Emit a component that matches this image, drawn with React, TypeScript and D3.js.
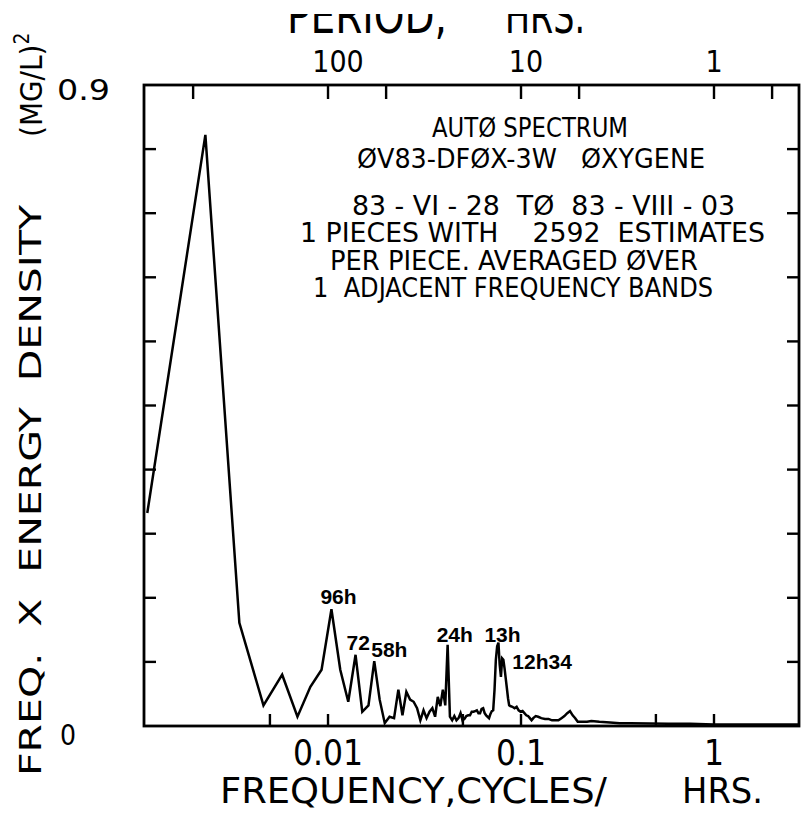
import React from "react";
import * as d3 from "d3";

// ---- data ----
const RECORD_HOURS = 864; // 83-VI-28 to 83-VIII-03
const HARMONICS = [
  1, 2, 3, 4, 5, 6, 7, 8, 9, 10, 11, 12, 13, 14, 15, 16, 17, 18, 19, 20,
  21, 22, 23, 24, 25, 26, 27, 28, 29, 30, 31, 32, 33, 34, 35, 36, 37, 38, 39, 40,
  41, 42, 43, 44, 45, 46, 47, 48, 49, 50, 51, 52, 53, 54, 55, 56, 57, 58, 59, 60,
  61, 62, 63, 64, 65, 66, 67, 68, 69, 70, 71, 72, 73, 74, 75, 76, 78, 80, 82, 84,
  86, 88, 90, 92, 94, 96, 98, 100, 103, 106, 110, 115, 120, 125, 130, 135, 140, 145, 150, 155,
  160, 165, 170, 180, 190, 200, 220, 250, 280, 320, 400, 500, 650, 864, 1296, 1800, 2370,
];
const DENSITY = [
  0.299, 0.83, 0.145, 0.029, 0.072, 0.013, 0.055, 0.079, 0.164, 0.079,
  0.034, 0.1, 0.02, 0.029, 0.091, 0.037, 0.004, 0.013, 0.011, 0.051,
  0.015, 0.048, 0.037, 0.034, 0.025, 0.008, 0.022, 0.011, 0.02, 0.025,
  0.013, 0.041, 0.028, 0.051, 0.029, 0.114, 0.013, 0.008, 0.014, 0.008,
  0.011, 0.018, 0.008, 0.01, 0.014, 0.015, 0.015, 0.02, 0.02, 0.021,
  0.022, 0.018, 0.018, 0.024, 0.025, 0.018, 0.015, 0.013, 0.011, 0.017,
  0.021, 0.022, 0.051, 0.093, 0.112, 0.117, 0.086, 0.069, 0.095, 0.093,
  0.081, 0.067, 0.053, 0.039, 0.029, 0.028, 0.027, 0.025, 0.027, 0.022,
  0.02, 0.021, 0.018, 0.015, 0.014, 0.011, 0.008, 0.011, 0.014, 0.013,
  0.011, 0.01, 0.01, 0.008, 0.008, 0.008, 0.011, 0.014, 0.018, 0.021,
  0.015, 0.011, 0.006, 0.006, 0.006, 0.007, 0.006, 0.005, 0.004, 0.004,
  0.0035, 0.003, 0.003, 0.002, 0.002, 0.002, 0.002,
];

const Y_TICKS = [0.09, 0.18, 0.27, 0.36, 0.45, 0.54, 0.63, 0.72, 0.81];
const FREQ_TICKS = [0.005, 0.01, 0.05, 0.1, 0.5, 1];
const FREQ_LABELS = [
  { f: 0.01, text: "0.01" },
  { f: 0.1, text: "0.1" },
  { f: 1, text: "1" },
];
const PERIOD_TICKS = [500, 100, 50, 10, 5, 1, 0.5];
const PERIOD_LABELS = [
  { p: 100, text: "100" },
  { p: 10, text: "10" },
  { p: 1, text: "1" },
];
const PEAK_LABELS = [
  { k: 9, text: "96h", dx: -11, dy: -5 },
  { k: 12, text: "72", dx: -9, dy: -5 },
  { k: 15, text: "58h", dx: -3, dy: -4 },
  { k: 36, text: "24h", dx: -11, dy: -3 },
  { k: 66, text: "13h", dx: -14, dy: -1 },
  { k: 70, text: "12h34", dx: 9, dy: 9 },
];
const INFO_LINES = [
  "AUTØ SPECTRUM",
  "ØV83-DFØX-3W   ØXYGENE",
  "83 - VI - 28  TØ  83 - VIII - 03",
  "1 PIECES WITH    2592  ESTIMATES",
  "PER PIECE. AVERAGED ØVER",
  "1  ADJACENT FREQUENCY BANDS",
];
// layout of the info block: [x, baseline, length]
const INFO_LAYOUT = [
  [432, 137, 196],
  [357, 168, 348],
  [352, 215, 383],
  [300, 242, 465],
  [330, 270, 368],
  [313, 297, 400],
];

const W = 801;
const H = 814;
const L = 144, R = 799, T = 85, B = 726;
const FONT = "'Liberation Sans Narrow', 'DejaVu Sans Condensed', 'DejaVu Sans', sans-serif";

export default function App() {
  const x = d3.scaleLog().domain([0.001113, 2.757]).range([L, R]);
  const y = d3.scaleLinear().domain([0, 0.9]).range([B, T]);
  const pts: [number, number][] = HARMONICS.map((k, i) => [k / RECORD_HOURS, DENSITY[i]]);
  const line = d3
    .line<[number, number]>()
    .x((d) => x(d[0]))
    .y((d) => y(d[1]));
  const tk = 12;

  return (
    <svg
      width={W}
      height={H}
      viewBox={`0 0 ${W} ${H}`}
      style={{ position: "absolute", left: 0, top: 0, background: "#fff" }}
    >
      <defs>
        <clipPath id="topclip">
          <rect x={0} y={14} width={W} height={40} />
        </clipPath>
      </defs>
      <rect x={0} y={0} width={W} height={H} fill="#fff" />

      {/* frame */}
      <rect x={L} y={T} width={R - L} height={B - T} fill="none" stroke="#000" strokeWidth={2.8} />

      {/* y ticks (left and right, inward) */}
      {Y_TICKS.map((v) => (
        <g key={v}>
          <line x1={L} x2={L + tk} y1={y(v)} y2={y(v)} stroke="#000" strokeWidth={2.4} />
          <line x1={R} x2={R - tk} y1={y(v)} y2={y(v)} stroke="#000" strokeWidth={2.4} />
        </g>
      ))}
      {/* bottom frequency ticks */}
      {FREQ_TICKS.map((f) => (
        <line key={f} x1={x(f)} x2={x(f)} y1={B} y2={B - tk} stroke="#000" strokeWidth={2.4} />
      ))}
      {/* top period ticks */}
      {PERIOD_TICKS.map((p) => (
        <line key={p} x1={x(1 / p)} x2={x(1 / p)} y1={T} y2={T + tk + 2} stroke="#000" strokeWidth={2.4} />
      ))}

      {/* spectrum line */}
      <path d={line(pts) || ""} fill="none" stroke="#000" strokeWidth={2.5} strokeLinejoin="miter" />

      {/* peak labels */}
      {PEAK_LABELS.map((pl) => {
        const i = HARMONICS.indexOf(pl.k);
        return (
          <text
            key={pl.text}
            x={x(pl.k / RECORD_HOURS) + pl.dx}
            y={y(DENSITY[i]) + pl.dy}
            fontFamily="'Liberation Sans', Arial, sans-serif"
            fontWeight="bold"
            fontSize={21}
          >
            {pl.text}
          </text>
        );
      })}

      {/* info block */}
      {INFO_LINES.map((s, i) => (
        <text
          key={s}
          x={INFO_LAYOUT[i][0]}
          y={INFO_LAYOUT[i][1]}
          textLength={INFO_LAYOUT[i][2]}
          lengthAdjust="spacingAndGlyphs"
          fontFamily={FONT}
          fontSize={26}
          style={{ whiteSpace: "pre" }}
        >
          {s}
        </text>
      ))}

      {/* bottom tick labels */}
      {FREQ_LABELS.map((d) => (
        <text key={d.text} x={x(d.f)} y={765} textAnchor="middle" fontFamily={FONT} fontSize={35}>
          {d.text}
        </text>
      ))}
      {/* top tick labels */}
      {PERIOD_LABELS.map((d) => (
        <text
          key={d.text}
          x={x(1 / d.p) + (d.text.length - 1) * 5}
          y={72}
          textAnchor="middle"
          fontFamily={FONT}
          fontSize={30}
        >
          {d.text}
        </text>
      ))}

      {/* axis titles */}
      <text x={220} y={803} textLength={387} lengthAdjust="spacingAndGlyphs" fontFamily={FONT} fontSize={35}>
        FREQUENCY,CYCLES/
      </text>
      <text x={682} y={803} textLength={81} lengthAdjust="spacingAndGlyphs" fontFamily={FONT} fontSize={35}>
        HRS.
      </text>
      <g clipPath="url(#topclip)">
        <text x={287} y={33} textLength={160} lengthAdjust="spacingAndGlyphs" fontFamily={FONT} fontSize={50}>
          PERIOD,
        </text>
        <text x={505} y={33} textLength={80} lengthAdjust="spacingAndGlyphs" fontFamily={FONT} fontSize={50}>
          HRS.
        </text>
      </g>

      {/* y tick labels */}
      <text x={57} y={100} textLength={53} lengthAdjust="spacingAndGlyphs" fontFamily={FONT} fontSize={28}>
        0.9
      </text>
      <text x={60} y={745} fontFamily={FONT} fontSize={28}>
        0
      </text>

      {/* y axis title */}
      <g transform="translate(41,776) rotate(-90)">
        <text x={0} y={0} textLength={571} lengthAdjust="spacingAndGlyphs" fontFamily={FONT} fontSize={31} style={{ whiteSpace: "pre" }}>
          FREQ.  X  ENERGY  DENSITY
        </text>
      </g>
      <g transform="translate(42,137) rotate(-90)">
        <text x={0} y={0} fontFamily={FONT} fontSize={31}>
          (MG/L)
          <tspan dy={-13} fontSize={21}>
            2
          </tspan>
        </text>
      </g>
    </svg>
  );
}
